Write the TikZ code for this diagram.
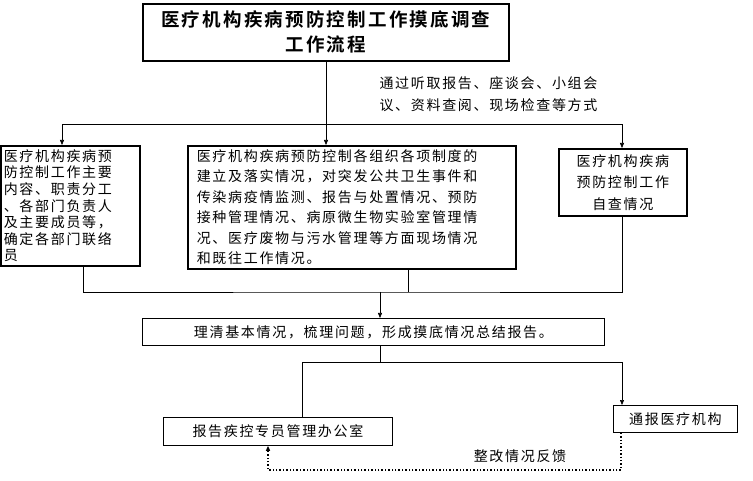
\documentclass[tikz,border=0pt]{standalone}
\usepackage{fontspec}
\setmainfont{Noto Sans CJK SC}[BoldFont={Noto Sans CJK SC Bold}, LetterSpace=12]
\usetikzlibrary{arrows.meta, positioning}

\begin{document}
\begin{tikzpicture}[x=1pt, y=-1pt,
        every node/.style={font=\fontsize{14}{21.5}\selectfont},
        box/.style={
          rectangle, draw=black, line width=1.6pt,
          anchor=north west, align=left, inner sep=4pt},
        flat/.style={
          rectangle, draw=black, line width=0.8pt,
          anchor=north west, align=center, inner sep=3pt},
        link/.style={draw, line width=0.6pt, -{Triangle[length=5pt,width=4pt]}},
        feedback/.style={draw, line width=1.4pt, dotted, -{Triangle[length=5pt,width=4pt]}}
      ]
        \useasboundingbox (0,0) rectangle (753,481);
        \node[box, align=center, minimum width=366pt, minimum height=57pt,
          font=\fontsize{18.5}{25}\selectfont\bfseries] (title) at (142,3)
          {医疗机构疾病预防控制工作摸底调查\\工作流程};
        \node[anchor=west, align=left] (way) at (376,94)
          {通过听取报告、座谈会、小组会\\议、资料查阅、现场检查等方式};
        \node[box, text width=133pt, minimum height=120pt, inner sep=3pt,
          font=\fontsize{14}{16.6}\selectfont] (duty) at (0,145)
          {医疗机构疾病预\\防控制工作主要\\内容、职责分工\\、各部门负责人\\及主要成员等，\\确定各部门联络\\员};
        \node[box, text width=310pt, minimum height=123pt, inner xsep=9pt, inner ysep=3pt,
          font=\fontsize{14}{20.5}\selectfont] (site) at (187,145)
          {医疗机构疾病预防控制各组织各项制度的\\建立及落实情况，对突发公共卫生事件和\\传染病疫情监测、报告与处置情况、预防\\接种管理情况、病原微生物实验室管理情\\况、医疗废物与污水管理等方面现场情况\\和既往工作情况。};
        \node[box, align=center, minimum width=128pt, minimum height=67pt, inner sep=2pt] (self) at (558,148)
          {医疗机构疾病\\预防控制工作\\自查情况};
        \node[flat, minimum width=462pt, minimum height=27pt] (sum) at (142,318)
          {理清基本情况，梳理问题，形成摸底情况总结报告。};
        \node[flat, minimum width=229pt, minimum height=28pt] (office) at (163,417)
          {报告疾控专员管理办公室};
        \node[flat, minimum width=124pt, minimum height=27pt] (notify) at (613,405)
          {通报医疗机构};
        \coordinate (c1) at (326,124);
        \coordinate (c2) at (380,292);
        \coordinate (c3) at (380,362);
        \coordinate (c4) at (621,470);
        \node (fb) at (520,456) {整改情况反馈};
        % fan out
        \draw[line width=0.6pt] (title.south -| c1) -- (c1);
        \draw[link] (c1) -- (c1 |- site.north);
        \draw[link] (c1) -| (62,145);
        \draw[link] (c1) -| (622,148);
        % collect
        \draw[line width=0.6pt] (duty.south -| 83,0) |- (c2) -| (self.south -| 622,0);
        \draw[line width=0.6pt] (site.south -| 408,0) -- (408,292);
        \draw[link] (c2) -- (c2 |- sum.north);
        % results
        \draw[line width=0.6pt] (c2 |- sum.south) -- (c3);
        \draw[line width=0.6pt] (c3) -| (302,417);
        \draw[link] (c3) -| (notify.north -| 622,0);
        \draw[feedback] (notify.south -| c4) -- (c4) -| (office.south -| 268,0);
      \end{tikzpicture}
\end{document}
